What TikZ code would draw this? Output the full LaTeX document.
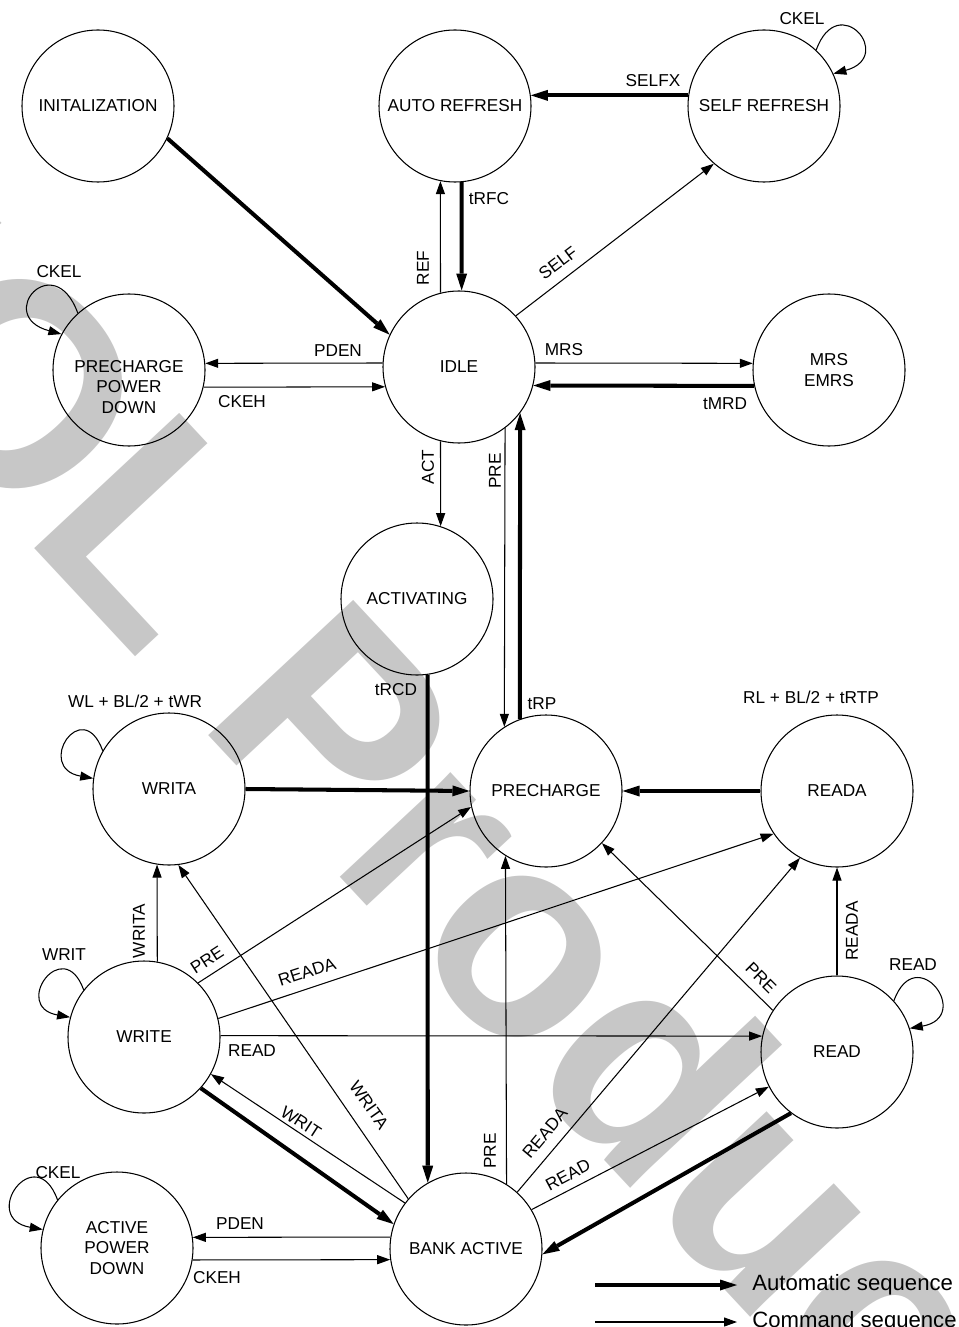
\documentclass[tikz,border=0pt]{standalone}
\usepackage{fontspec}
\setmainfont{Liberation Sans}
\usetikzlibrary{arrows.meta}

\tikzset{
  state/.style={circle, draw, line width=0.6pt, minimum size=30.4mm, inner sep=0pt, align=center, font=\fontsize{9.8}{11.9}\selectfont},
  lbl/.style={inner sep=0pt, font=\fontsize{9.8}{11.9}\selectfont},
  cmdseq/.style={line width=0.6pt, -{Triangle[length=2.6mm, width=1.8mm]}},
  autoseq/.style={line width=2.3pt, -{Triangle[length=3.4mm, width=2.2mm, line width=0pt]}},
  legtext/.style={anchor=west, inner xsep=3mm, inner ysep=0pt, font=\fontsize{12.6}{15}\selectfont},
  watermark/.style={text=black!22, inner sep=0pt, anchor=base west, font=\fontsize{164}{164}\selectfont\bfseries},
}

\begin{document}
\begin{tikzpicture}[x=0.2mm, y=0.2mm]
  \useasboundingbox (0,0) rectangle (958,-1327);

  % Watermark
  \node[watermark, rotate=-47] (wm) at (-263,-230) {EOL Product};

  % States with absolute positioning
  \node[state] (init) at (98,-106) {INITALIZATION};
  \node[state] (autoref) at (455,-106) {AUTO REFRESH};
  \node[state] (selfref) at (764,-106) {SELF REFRESH};
  \node[state] (ppd) at (129,-370) {};
  \node[lbl, align=center] (ppdtext) at (129,-387) {PRECHARGE\\POWER\\DOWN};
  \node[state] (idle) at (459,-367) {IDLE};
  \node[state] (mrs) at (829,-370) {MRS\\EMRS};
  \node[state] (activ) at (417,-599) {ACTIVATING};
  \node[state] (writa) at (169,-789) {WRITA};
  \node[state] (prech) at (546,-791) {PRECHARGE};
  \node[state] (reada) at (837,-791) {READA};
  \node[state] (write) at (144,-1037) {WRITE};
  \node[state] (read) at (837,-1052) {READ};
  \node[state] (apd) at (117,-1248) {ACTIVE\\POWER\\DOWN};
  \node[state] (bank) at (466,-1249) {BANK ACTIVE};

  % Automatic sequences
  \draw[autoseq] (init.-25) -- (idle.155);
  \draw[autoseq] (autoref.275) -- (idle.88);
  \draw[autoseq] (selfref.172) -- (autoref.8);
  \draw[autoseq] (mrs.192) -- (idle.-14);
  \draw[autoseq] (prech.110) -- (idle.-37);
  \draw[autoseq] (activ.-82) -- (bank.120);
  \draw[autoseq] (writa.east) -- (prech.west);
  \draw[autoseq] (reada.west) -- (prech.east);
  \draw[autoseq] (write.-42) -- (bank.161);
  \draw[autoseq] (read.233) -- (bank.-4);

  % Command sequences
  \draw[cmdseq] (idle.104) -- (autoref.259);
  \draw[cmdseq] (idle.42) -- (selfref.229);
  \draw[cmdseq] (idle.177) -- (ppd.5);
  \draw[cmdseq] (ppd.-13) -- (idle.195);
  \draw[cmdseq] (idle.3) -- (mrs.175);
  \draw[cmdseq] (idle.-104) -- (activ.72);
  \draw[cmdseq] (idle.-53) -- (prech.123);
  \draw[cmdseq] (write.80) -- (writa.261);
  \draw[cmdseq] (bank.139) -- (writa.-83);
  \draw[cmdseq] (write.45) -- (prech.192);
  \draw[cmdseq] (write.14) -- (reada.214);
  \draw[cmdseq] (write.1) -- (read.168);
  \draw[cmdseq] (bank.143) -- (write.-29);
  \draw[cmdseq] (bank.58) -- (prech.-122);
  \draw[cmdseq] (bank.48) -- (reada.-119);
  \draw[cmdseq] (bank.31) -- (read.-153);
  \draw[cmdseq] (read.147) -- (prech.-43);
  \draw[cmdseq] (read.north) -- (reada.south);
  \draw[cmdseq] (bank.171) -- (apd.8);
  \draw[cmdseq] (apd.-9) -- (bank.188);

  % Self loops
  \draw[cmdseq] (selfref.47) .. controls +(70:65) and +(15:65) .. (selfref.25);
  \draw[cmdseq] (ppd.132) .. controls +(110:70) and +(165:70) .. (ppd.152);
  \draw[cmdseq] (apd.141) .. controls +(110:65) and +(170:65) .. (apd.166);
  \draw[cmdseq] (writa.150) .. controls +(110:60) and +(170:60) .. (writa.172);
  \draw[cmdseq] (write.142) .. controls +(110:60) and +(170:60) .. (write.165);
  \draw[cmdseq] (read.42) .. controls +(70:65) and +(10:65) .. (read.18);

  % Labels with absolute positioning
  \node[lbl] (lckel1) at (802,-19) {CKEL};
  \node[lbl] (lselfx) at (653,-81) {SELFX};
  \node[lbl] (ltrfc) at (489,-199) {tRFC};
  \node[lbl, rotate=90] (lref) at (423,-268) {REF};
  \node[lbl, rotate=37] (lself) at (558,-263) {SELF};
  \node[lbl] (lckel2) at (59,-272) {CKEL};
  \node[lbl] (lpden1) at (338,-351) {PDEN};
  \node[lbl] (lckeh1) at (242,-402) {CKEH};
  \node[lbl] (lmrs) at (564,-350) {MRS};
  \node[lbl] (ltmrd) at (725,-404) {tMRD};
  \node[lbl, rotate=90] (lact) at (428,-467) {ACT};
  \node[lbl, rotate=90] (lpre1) at (495,-471) {PRE};
  \node[lbl] (ltrcd) at (396,-690) {tRCD};
  \node[lbl] (ltrp) at (542,-704) {tRP};
  \node[lbl] (lwltwr) at (135,-701) {WL + BL/2 + tWR};
  \node[lbl] (lrltrtp) at (811,-697) {RL + BL/2 + tRTP};
  \node[lbl, rotate=90] (lwrita1) at (139,-931) {WRITA};
  \node[lbl] (lwrit1) at (64,-955) {WRIT};
  \node[lbl, rotate=33] (lpre2) at (207,-960) {PRE};
  \node[lbl, rotate=18] (lreada1) at (307,-972) {READA};
  \node[lbl] (lread1) at (252,-1051) {READ};
  \node[lbl, rotate=-33] (lwrit2) at (301,-1122) {WRIT};
  \node[lbl, rotate=-55] (lwrita2) at (369,-1105) {WRITA};
  \node[lbl, rotate=90] (lpre3) at (490,-1151) {PRE};
  \node[lbl, rotate=50] (lreada2) at (545,-1133) {READA};
  \node[lbl, rotate=28] (lread2) at (568,-1175) {READ};
  \node[lbl, rotate=-45] (lpre4) at (761,-978) {PRE};
  \node[lbl, rotate=90] (lreada3) at (852,-931) {READA};
  \node[lbl] (lread3) at (913,-965) {READ};
  \node[lbl] (lckel3) at (58,-1173) {CKEL};
  \node[lbl] (lpden2) at (240,-1224) {PDEN};
  \node[lbl] (lckeh2) at (217,-1278) {CKEH};

  % Legend
  \coordinate (autostart) at (595,-1285);
  \coordinate (cmdstart) at (595,-1322);
  \node[legtext] (autotxt) at (737,-1285) {Automatic sequence};
  \node[legtext] (cmdtxt) at (737,-1322) {Command sequence};
  \draw[autoseq] (autostart) -- (autotxt);
  \draw[cmdseq] (cmdstart) -- (cmdtxt);
\end{tikzpicture}
\end{document}
